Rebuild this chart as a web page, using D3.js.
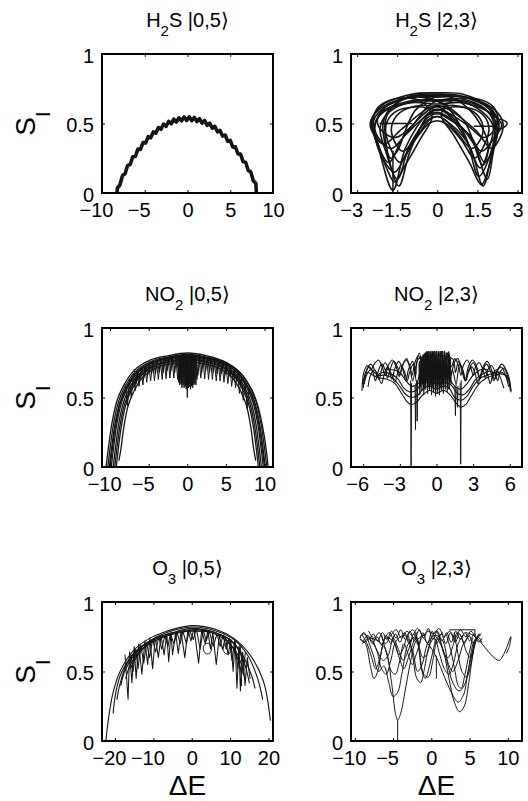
<!DOCTYPE html>
<html>
<head>
<meta charset="utf-8">
<script src="https://cdn.jsdelivr.net/npm/d3@7"></script>
<style>
  html, body { margin: 0; padding: 0; background: #fff; }
  svg { display: block; }
</style>
</head>
<body>
<svg id="fig" width="528" height="801"></svg>
<script>
// ---------- tick values and labels ----------
const yTicks = [0, 0.5, 1];
const yTickLabels = ["0", "0.5", "1"];
const xTicksH2S05 = [-10, -5, 0, 5, 10];
const xLabelsH2S05 = ["\u221210", "\u22125", "0", "5", "10"];
const xTicksH2S23 = [-3, -1.5, 0, 1.5, 3];
const xLabelsH2S23 = ["\u22123", "\u22121.5", "0", "1.5", "3"];
const xTicksNO205 = [-10, -5, 0, 5, 10];
const xLabelsNO205 = ["\u221210", "\u22125", "0", "5", "10"];
const xTicksNO223 = [-6, -3, 0, 3, 6];
const xLabelsNO223 = ["\u22126", "\u22123", "0", "3", "6"];
const xTicksO305 = [-20, -10, 0, 10, 20];
const xLabelsO305 = ["\u221220", "\u221210", "0", "10", "20"];
const xTicksO323 = [-10, -5, 0, 5, 10];
const xLabelsO323 = ["\u221210", "\u22125", "0", "5", "10"];

// ---------- H2S |0,5> : one densely oscillating trace ----------
const h2s05Trace = [[-8.25,0],[-8.2,0.035],[-7.9,0.059],[-7.6,0.126],[-7.3,0.138],[-7.0,0.199],[-6.7,0.205],
  [-6.4,0.261],[-6.1,0.263],[-5.8,0.316],[-5.5,0.314],[-5.2,0.363],[-4.9,0.359],[-4.6,0.405],[-4.3,0.397],
  [-4.0,0.440],[-3.7,0.430],[-3.4,0.471],[-3.1,0.458],[-2.8,0.496],[-2.5,0.480],[-2.2,0.516],[-1.9,0.498],
  [-1.6,0.531],[-1.3,0.511],[-1.0,0.541],[-0.7,0.519],[-0.4,0.547],[-0.1,0.522],[0.2,0.548],[0.5,0.520],
  [0.8,0.544],[1.1,0.514],[1.4,0.535],[1.7,0.503],[2.0,0.522],[2.3,0.487],[2.6,0.503],[2.9,0.466],[3.2,0.480],
  [3.5,0.440],[3.8,0.451],[4.1,0.409],[4.4,0.417],[4.7,0.372],[5.0,0.378],[5.3,0.330],[5.6,0.332],[5.9,0.281],
  [6.2,0.280],[6.5,0.226],[6.8,0.221],[7.1,0.162],[7.4,0.152],[7.7,0.087],[8.0,0.070],[8.05,0]];

// ---------- H2S |2,3> : closed orbits ----------
const h2s23Orbits = [
  [[0,0.70],[-0.96,0.69],[-2.09,0.60],[-2.41,0.50],[-2.14,0.28],[-1.66,0.02],[-1.18,0.33],[-0.37,0.57],[0,0.60],[0.37,0.57],[1.23,0.33],[1.71,0.05],[2.03,0.28],[2.3,0.50],[1.98,0.60],[0.96,0.69]],
  [[0,0.72],[-0.96,0.71],[-2.14,0.62],[-2.46,0.50],[-2.25,0.36],[-1.82,0.22],[-1.28,0.40],[-0.37,0.59],[0,0.62],[0.37,0.58],[1.34,0.36],[1.87,0.10],[2.09,0.30],[2.19,0.50],[1.87,0.62],[0.96,0.71]],
  [[0,0.66],[-0.86,0.66],[-1.82,0.58],[-2.14,0.47],[-1.93,0.30],[-1.5,0.10],[-1.02,0.35],[-0.32,0.53],[0,0.55],[0.32,0.52],[1.07,0.38],[1.6,0.18],[1.93,0.32],[2.09,0.48],[1.71,0.58],[0.86,0.66]],
  [[0,0.64],[-0.96,0.65],[-2.03,0.58],[-2.35,0.48],[-2.14,0.38],[-1.71,0.32],[-1.18,0.42],[-0.37,0.56],[0,0.58],[0.37,0.55],[1.18,0.42],[1.66,0.30],[2.14,0.40],[2.41,0.49],[2.03,0.57],[0.96,0.65]],
  [[0,0.60],[-0.75,0.62],[-1.6,0.58],[-1.93,0.48],[-1.77,0.33],[-1.39,0.22],[-0.91,0.36],[-0.32,0.50],[0,0.52],[0.32,0.50],[0.91,0.38],[1.39,0.25],[1.77,0.35],[1.93,0.48],[1.6,0.58],[0.75,0.62]],
  [[0,0.67],[-0.86,0.69],[-1.93,0.62],[-2.25,0.52],[-2.03,0.44],[-1.55,0.40],[-0.96,0.48],[-0.37,0.62],[0,0.66],[0.37,0.62],[1.07,0.40],[1.55,0.12],[1.93,0.25],[2.14,0.48],[1.82,0.60],[0.86,0.68]],
  [[0,0.67],[-1.07,0.66],[-2.09,0.58],[-2.35,0.46],[-2.09,0.27],[-1.6,0.15],[-1.12,0.30],[-0.37,0.54],[0,0.57],[0.37,0.54],[1.28,0.40],[1.77,0.22],[2.09,0.32],[2.25,0.46],[1.93,0.58],[1.07,0.66]],
  [[0,0.71],[-0.86,0.70],[-1.71,0.62],[-2.03,0.50],[-1.82,0.25],[-1.44,0.05],[-1.02,0.30],[-0.32,0.57],[0,0.60],[0.37,0.58],[1.18,0.48],[1.71,0.40],[2.09,0.44],[2.25,0.52],[1.93,0.62],[0.86,0.70]],
  [[0,0.62],[-0.64,0.63],[-1.39,0.58],[-1.71,0.48],[-1.6,0.37],[-1.28,0.30],[-0.8,0.40],[-0.27,0.53],[0,0.55],[0.27,0.53],[0.8,0.42],[1.28,0.32],[1.6,0.38],[1.71,0.48],[1.39,0.58],[0.64,0.63]],
  [[0,0.69],[-1.07,0.69],[-2.19,0.60],[-2.51,0.50],[-2.3,0.40],[-1.98,0.35],[-1.39,0.45],[-0.43,0.60],[0,0.63],[0.43,0.60],[1.44,0.45],[2.03,0.32],[2.35,0.40],[2.46,0.50],[2.14,0.60],[1.07,0.69]],
  [[-2.4,0.52],[-2.2,0.62],[-1.5,0.68],[-0.6,0.66],[-0.2,0.55],[-0.6,0.40],[-1.2,0.20],[-1.6,0.08],[-1.9,0.18],[-2.25,0.38]],
  [[2.3,0.50],[2.1,0.62],[1.4,0.68],[0.5,0.66],[0.15,0.56],[0.6,0.42],[1.2,0.22],[1.65,0.06],[1.95,0.20],[2.2,0.38]],
  [[-1.9,0.55],[-1.0,0.70],[0,0.66],[1.0,0.52],[1.7,0.20],[1.9,0.35],[1.2,0.60],[0.2,0.70],[-0.8,0.60],[-1.5,0.30],[-1.75,0.25]]
];
const h2s23SmallLoop = [[2.14,0.49],[2.35,0.53],[2.62,0.50],[2.35,0.46]];
const h2s23Segments = [
  [[-2.14,0.50],[-0.96,0.50]],
  [[1.39,0.48],[2.09,0.48]],
  [[-1.66,0.0],[-1.66,0.30]]
];

// ---------- NO2 |0,5> : nested arcs with a comb of dips ----------
const no205Arcs = [
  [[-10.53,0],[-10.19,0.15],[-9.75,0.32],[-9.09,0.48],[-8.31,0.58],[-6.98,0.69],[-4.76,0.77],[-2.55,0.80],[0,0.82],[2.55,0.80],[4.76,0.76],[6.98,0.67],[8.31,0.56],[9.09,0.45],[9.75,0.29],[10.19,0.14],[10.47,0]],
  [[-10.3,0],[-9.97,0.148],[-9.54,0.316],[-8.89,0.474],[-8.13,0.573],[-6.83,0.681],[-4.67,0.761],[-2.49,0.791],[0,0.81],[2.49,0.791],[4.67,0.761],[6.83,0.681],[8.13,0.573],[8.89,0.474],[9.54,0.316],[9.97,0.148],[10.3,0]],
  [[-10.1,0],[-9.78,0.146],[-9.35,0.312],[-8.72,0.468],[-7.97,0.566],[-6.7,0.673],[-4.58,0.751],[-2.44,0.781],[0,0.80],[2.44,0.781],[4.58,0.751],[6.7,0.673],[7.97,0.566],[8.72,0.468],[9.35,0.312],[9.78,0.146],[10.1,0]],
  [[-10.0,0],[-9.68,0.147],[-9.26,0.314],[-8.63,0.471],[-7.89,0.569],[-6.63,0.677],[-4.53,0.756],[-2.42,0.786],[0,0.805],[2.42,0.786],[4.53,0.756],[6.63,0.677],[7.89,0.569],[8.63,0.471],[9.26,0.314],[9.68,0.147],[10.0,0]],
  [[-9.85,0],[-9.53,0.146],[-9.12,0.312],[-8.5,0.468],[-7.77,0.566],[-6.53,0.673],[-4.46,0.751],[-2.38,0.781],[0,0.80],[2.38,0.781],[4.46,0.751],[6.53,0.673],[7.77,0.566],[8.5,0.468],[9.12,0.312],[9.53,0.146],[9.85,0]],
  [[-9.6,0],[-9.29,0.145],[-8.89,0.308],[-8.28,0.462],[-7.57,0.559],[-6.36,0.664],[-4.35,0.742],[-2.32,0.771],[0,0.79],[2.32,0.771],[4.35,0.742],[6.36,0.664],[7.57,0.559],[8.28,0.462],[8.89,0.308],[9.29,0.145],[9.6,0]],
  [[-9.4,0],[-9.1,0.143],[-8.7,0.304],[-8.11,0.456],[-7.42,0.551],[-6.23,0.656],[-4.26,0.732],[-2.27,0.761],[0,0.78],[2.27,0.761],[4.26,0.732],[6.23,0.656],[7.42,0.551],[8.11,0.456],[8.7,0.304],[9.1,0.143],[9.4,0]],
  [[-9.2,0],[-8.91,0.142],[-8.52,0.302],[-7.94,0.453],[-7.26,0.548],[-6.1,0.652],[-4.17,0.728],[-2.23,0.756],[0,0.775],[2.23,0.756],[4.17,0.728],[6.1,0.652],[7.26,0.548],[7.94,0.453],[8.52,0.302],[8.91,0.142],[9.2,0]],
  [[-8.85,0.05],[-8.57,0.14],[-8.2,0.296],[-7.64,0.445],[-6.98,0.537],[-5.87,0.639],[-4.01,0.714],[-2.14,0.742],[0,0.76],[2.14,0.742],[4.01,0.714],[5.87,0.639],[6.98,0.537],[7.64,0.445],[8.2,0.296],[8.57,0.14],[8.85,0.05]]
];
const no205Comb = [
  [[-8.0,0.59],[-7.75,0.44],[-7.5,0.63],[-7.25,0.50],[-7.0,0.67],[-6.75,0.55],[-6.5,0.69],[-6.25,0.58],[-6.0,0.71],[-5.75,0.59],[-5.5,0.725],[-5.25,0.61],[-5.0,0.74],[-4.75,0.62],[-4.5,0.75],[-4.25,0.62],[-4.0,0.765],[-3.75,0.63],[-3.5,0.77],[-3.25,0.63],[-3.0,0.78],[-2.75,0.635],[-2.5,0.79],[-2.25,0.64],[-2.0,0.795],[-1.75,0.64],[-1.5,0.80],[-1.25,0.63],[-1.0,0.805],[-0.75,0.60],[-0.5,0.81],[-0.25,0.60],[0,0.81],[0.25,0.60],[0.5,0.81],[0.75,0.61],[1.0,0.805],[1.25,0.63],[1.5,0.80],[1.75,0.64],[2.0,0.795],[2.25,0.635],[2.5,0.79],[2.75,0.63],[3.0,0.78],[3.25,0.63],[3.5,0.77],[3.75,0.62],[4.0,0.76],[4.25,0.62],[4.5,0.75],[4.75,0.61],[5.0,0.735],[5.25,0.60],[5.5,0.72],[5.75,0.58],[6.0,0.70],[6.25,0.57],[6.5,0.68],[6.75,0.53],[7.0,0.65],[7.25,0.48],[7.5,0.61],[7.75,0.42],[8.0,0.57]],
  [[-6.875,0.70],[-6.625,0.60],[-6.375,0.70],[-6.125,0.63],[-5.875,0.715],[-5.625,0.64],[-5.375,0.73],[-5.125,0.66],[-4.875,0.745],[-4.625,0.67],[-4.375,0.755],[-4.125,0.67],[-3.875,0.765],[-3.625,0.68],[-3.375,0.775],[-3.125,0.68],[-2.875,0.785],[-2.625,0.69],[-2.375,0.79],[-2.125,0.69],[-1.875,0.795],[-1.625,0.68],[-1.375,0.80],[-1.125,0.66],[-0.875,0.805],[-0.625,0.62],[-0.375,0.81],[-0.125,0.59],[0.125,0.81],[0.375,0.60],[0.625,0.81],[0.875,0.63],[1.125,0.805],[1.375,0.66],[1.625,0.80],[1.875,0.68],[2.125,0.795],[2.375,0.69],[2.625,0.79],[2.875,0.68],[3.125,0.78],[3.375,0.68],[3.625,0.77],[3.875,0.67],[4.125,0.76],[4.375,0.67],[4.625,0.75],[4.875,0.66],[5.125,0.735],[5.375,0.65],[5.625,0.72],[5.875,0.63],[6.125,0.70],[6.375,0.62],[6.625,0.685],[6.875,0.59]],
  [[-1.19,0.80],[-1.12,0.61],[-1.05,0.80],[-0.98,0.59],[-0.91,0.805],[-0.84,0.60],[-0.77,0.805],[-0.70,0.57],[-0.63,0.81],[-0.56,0.59],[-0.49,0.81],[-0.42,0.57],[-0.35,0.81],[-0.28,0.58],[-0.21,0.81],[-0.14,0.56],[-0.07,0.81],[0,0.58],[0.07,0.81],[0.14,0.57],[0.21,0.81],[0.28,0.58],[0.35,0.81],[0.42,0.56],[0.49,0.81],[0.56,0.58],[0.63,0.81],[0.70,0.57],[0.77,0.805],[0.84,0.59],[0.91,0.805],[0.98,0.60],[1.05,0.80],[1.12,0.59],[1.19,0.80]],
  [[-0.05,0.79],[0,0.50],[0.05,0.79]]
];

// ---------- NO2 |2,3> : wavy traces, dense core and narrow dips ----------
const no223Waves = [
  [[-6.0,0.57],[-5.8,0.68],[-5.5,0.72],[-5.2,0.68],[-5.0,0.62],[-4.8,0.68],[-4.5,0.74],[-4.2,0.70],[-4.0,0.64],[-3.8,0.70],[-3.5,0.76],[-3.2,0.72],[-3.0,0.66],[-2.8,0.72],[-2.5,0.77],[-2.2,0.73],[-2.0,0.66],[-1.8,0.74],[-1.5,0.80],[-1.2,0.76],[-0.9,0.82],[-0.6,0.75],[-0.3,0.82],[0,0.76],[0.3,0.82],[0.6,0.75],[0.9,0.82],[1.2,0.72],[1.5,0.78],[1.8,0.73],[2.0,0.66],[2.2,0.73],[2.5,0.77],[2.8,0.72],[3.0,0.66],[3.2,0.72],[3.5,0.75],[3.8,0.70],[4.0,0.64],[4.2,0.70],[4.5,0.73],[4.8,0.68],[5.0,0.62],[5.2,0.68],[5.5,0.71],[5.8,0.66],[6.05,0.55]],
  [[-5.6,0.58],[-5.4,0.66],[-5.1,0.70],[-4.8,0.66],[-4.5,0.60],[-4.3,0.66],[-4.0,0.72],[-3.7,0.67],[-3.4,0.61],[-3.2,0.67],[-2.9,0.73],[-2.6,0.68],[-2.4,0.62],[-2.2,0.68],[-1.9,0.74],[-1.6,0.60],[-1.3,0.70],[-1.0,0.56],[-0.7,0.74],[-0.4,0.58],[0,0.70],[0.4,0.58],[0.7,0.74],[1.0,0.56],[1.3,0.70],[1.6,0.60],[1.9,0.74],[2.2,0.68],[2.4,0.62],[2.6,0.68],[2.9,0.72],[3.2,0.66],[3.4,0.60],[3.6,0.66],[3.9,0.71],[4.2,0.66],[4.4,0.60],[4.6,0.66],[4.9,0.70],[5.2,0.65],[5.5,0.57]],
  [[-6.05,0.60],[-5.7,0.68],[-5.2,0.66],[-4.6,0.64],[-4.0,0.63],[-3.4,0.60],[-2.8,0.52],[-2.3,0.46],[-2.0,0.45],[-1.6,0.47],[-1.1,0.52],[-0.6,0.55],[0,0.53],[0.6,0.55],[1.1,0.52],[1.6,0.46],[2.0,0.43],[2.4,0.45],[2.9,0.52],[3.5,0.60],[4.1,0.64],[4.7,0.66],[5.3,0.67],[5.8,0.65],[6.1,0.55]],
  [[-5.9,0.62],[-5.4,0.70],[-4.8,0.66],[-4.2,0.66],[-3.6,0.64],[-3.0,0.58],[-2.5,0.52],[-2.0,0.50],[-1.5,0.52],[-1.0,0.57],[-0.5,0.58],[0,0.56],[0.5,0.58],[1.0,0.57],[1.5,0.50],[2.0,0.48],[2.5,0.51],[3.0,0.58],[3.6,0.64],[4.2,0.66],[4.8,0.68],[5.4,0.68],[5.9,0.62]],
  [[-5.0,0.65],[-4.4,0.68],[-3.8,0.67],[-3.2,0.64],[-2.7,0.57],[-2.2,0.54],[-1.7,0.55],[-1.2,0.60],[-0.6,0.61],[0,0.60],[0.6,0.61],[1.2,0.59],[1.7,0.53],[2.2,0.52],[2.7,0.56],[3.2,0.63],[3.8,0.67],[4.4,0.69],[5.0,0.66]],
  [[-4.2,0.70],[-3.6,0.70],[-3.0,0.68],[-2.5,0.62],[-2.0,0.58],[-1.5,0.60],[-1.0,0.64],[-0.5,0.66],[0,0.64],[0.5,0.66],[1.0,0.64],[1.5,0.58],[2.0,0.56],[2.5,0.60],[3.0,0.66],[3.6,0.70],[4.2,0.70]],
  [[-6.1,0.55],[-5.95,0.68],[-5.65,0.73],[-5.35,0.70],[-5.1,0.74],[-4.75,0.77],[-4.45,0.72],[-4.2,0.66],[-3.95,0.73],[-3.6,0.77],[-3.3,0.72],[-3.05,0.65],[-2.8,0.73],[-2.45,0.78],[-2.15,0.70],[-1.95,0.62],[-1.7,0.72],[-1.4,0.82],[-1.1,0.70],[-0.8,0.83],[-0.5,0.68],[-0.2,0.83],[0.1,0.66],[0.4,0.83],[0.7,0.70],[1.0,0.83],[1.2,0.66],[1.45,0.75],[1.75,0.78],[2.05,0.70],[2.35,0.62],[2.6,0.72],[2.95,0.77],[3.3,0.72],[3.55,0.64],[3.8,0.72],[4.15,0.76],[4.5,0.70],[4.75,0.63],[5.0,0.70],[5.35,0.74],[5.7,0.70],[5.95,0.64],[6.1,0.54]],
  [[-5.9,0.60],[-5.7,0.70],[-5.4,0.74],[-5.0,0.69],[-4.7,0.63],[-4.5,0.70],[-4.2,0.75],[-3.9,0.70],[-3.65,0.63],[-3.4,0.71],[-3.1,0.76],[-2.75,0.70],[-2.5,0.62],[-2.3,0.70],[-1.95,0.76],[-1.7,0.66],[-1.45,0.78],[1.3,0.78],[1.55,0.68],[1.8,0.76],[2.15,0.70],[2.4,0.62],[2.65,0.70],[3.0,0.75],[3.3,0.70],[3.55,0.63],[3.8,0.70],[4.1,0.74],[4.45,0.68],[4.7,0.62],[4.95,0.69],[5.3,0.72],[5.65,0.66],[5.9,0.58]]
];
const no223Core = [
  [[-1.44,0.74],[-1.36,0.52],[-1.28,0.78],[-1.20,0.55],[-1.12,0.80],[-1.04,0.52],[-0.96,0.81],[-0.88,0.56],[-0.80,0.82],[-0.72,0.53],[-0.64,0.83],[-0.56,0.55],[-0.48,0.83],[-0.40,0.52],[-0.32,0.83],[-0.24,0.54],[-0.16,0.83],[-0.08,0.51],[0,0.83],[0.08,0.53],[0.16,0.83],[0.24,0.52],[0.32,0.83],[0.40,0.55],[0.48,0.83],[0.56,0.53],[0.64,0.83],[0.72,0.56],[0.80,0.82],[0.88,0.54],[0.96,0.81],[1.04,0.57],[1.12,0.79],[1.20,0.60]],
  [[-1.40,0.76],[-1.32,0.58],[-1.24,0.79],[-1.16,0.60],[-1.08,0.81],[-1.00,0.58],[-0.92,0.82],[-0.84,0.62],[-0.76,0.83],[-0.68,0.58],[-0.60,0.83],[-0.52,0.60],[-0.44,0.83],[-0.36,0.57],[-0.28,0.83],[-0.20,0.60],[-0.12,0.83],[-0.04,0.56],[0.04,0.83],[0.12,0.58],[0.20,0.83],[0.28,0.57],[0.36,0.83],[0.44,0.60],[0.52,0.83],[0.60,0.58],[0.68,0.83],[0.76,0.60],[0.84,0.82],[0.92,0.58],[1.00,0.81],[1.08,0.62],[1.16,0.78]]
];
const no223Dips = [
  [[-2.12,0.62],[-2.08,0],[-2.04,0.60]],
  [[1.94,0.60],[1.98,0.02],[2.02,0.62]],
  [[-1.76,0.58],[-1.72,0.27],[-1.68,0.60]],
  [[-1.62,0.62],[-1.58,0.33],[-1.54,0.62]],
  [[1.50,0.58],[1.55,0.37],[1.60,0.60]],
  [[1.68,0.56],[1.72,0.43],[1.76,0.58]]
];

// ---------- O3 |0,5> : arcs ending at various heights, comb of dips ----------
const o305Arcs = [
  [[-22.4,0],[-21.5,0.2],[-20.5,0.35],[-18.7,0.50],[-15.2,0.65],[-10.9,0.74],[-6.5,0.79],[0,0.83],[6.5,0.80],[10.9,0.74],[15.2,0.62],[18.7,0.43],[20.5,0.15]],
  [[-20.5,0.20],[-19.8,0.35],[-18.5,0.48],[-15.5,0.62],[-11,0.72],[-6.5,0.78],[0,0.82],[6.5,0.79],[11,0.73],[14.5,0.62],[17.2,0.45],[18.5,0.30]],
  [[-19.5,0.30],[-18.8,0.40],[-17,0.55],[-14,0.66],[-10,0.73],[-5,0.78],[0,0.81],[5,0.79],[10,0.73],[13,0.63],[15.5,0.48],[16.5,0.38]],
  [[-18.5,0.40],[-17.5,0.50],[-15.5,0.60],[-12,0.70],[-7,0.76],[0,0.80],[7,0.77],[11,0.70],[13.5,0.58],[15,0.42]],
  [[-17.2,0.45],[-16,0.55],[-13.5,0.65],[-9,0.74],[-4,0.78],[0,0.79],[5,0.78],[9,0.72],[12,0.62],[13.8,0.45]],
  [[-16,0.52],[-14.5,0.60],[-12,0.68],[-8,0.74],[-3,0.78],[2,0.80],[7,0.77],[10,0.70],[12.5,0.55],[13,0.40]]
];
const o305Comb = [
  [[-17.4,0.62],[-16.6,0.30],[-16.2,0.64],[-15.6,0.42],[-15.0,0.68],[-14.5,0.45],[-13.8,0.70],[-13.0,0.48],[-12.2,0.72],[-11.5,0.55],[-10.9,0.74],[-10.2,0.52],[-9.5,0.75],[-8.7,0.60],[-8.0,0.76],[-7.2,0.62],[-6.5,0.77],[-6.0,0.57],[-5.4,0.78],[-5.0,0.62],[-4.2,0.78],[-3.5,0.63],[-2.8,0.79],[-1.8,0.60],[-1.0,0.80],[-0.2,0.72],[0.6,0.81],[1.8,0.56],[2.6,0.80],[3.5,0.70],[4.2,0.79],[4.9,0.66],[5.5,0.78],[6.4,0.55],[7.2,0.76],[8.0,0.66],[8.8,0.75],[9.5,0.62],[10.2,0.73],[10.8,0.50],[11.3,0.72],[11.8,0.38],[12.3,0.68],[12.7,0.36],[13.3,0.64],[13.9,0.40],[14.5,0.60],[15.2,0.45]],
  [[-15.8,0.62],[-15.3,0.50],[-14.6,0.66],[-14.0,0.52],[-13.3,0.69],[-12.5,0.56],[-11.8,0.71],[-11.0,0.60],[-10.2,0.73],[-9.4,0.64],[-8.6,0.75],[-7.8,0.66],[-7.0,0.76],[-6.2,0.68],[-5.6,0.77],[-4.6,0.70],[-3.8,0.78],[-3.0,0.70],[-2.3,0.79],[-1.4,0.70],[-0.6,0.80],[0.4,0.73],[1.2,0.81],[2.2,0.66],[3.0,0.80],[3.8,0.72],[4.6,0.79],[5.6,0.68],[6.6,0.77],[7.4,0.68],[8.2,0.76],[9.0,0.66],[9.8,0.74],[10.5,0.58],[11.2,0.72],[12.0,0.52],[12.6,0.69],[13.4,0.48],[14.0,0.64]]
];
const o305Loops = [
  [[3.0,0.67],[3.6,0.70],[4.6,0.70],[5.2,0.66],[4.6,0.63],[3.6,0.63]],
  [[8.2,0.66],[8.8,0.70],[9.8,0.70],[10.3,0.66],[9.8,0.63],[8.8,0.63]]
];

// ---------- O3 |2,3> : irregular traces ----------
const o323Traces = [
  [[-8.0,0.74],[-7.0,0.72],[-6.0,0.66],[-5.2,0.42],[-4.7,0.20],[-4.4,0.15],[-4.0,0.20],[-3.3,0.40],[-2.6,0.60],[-2.0,0.72],[-1.0,0.76]],
  [[0.5,0.76],[1.5,0.66],[2.3,0.45],[3.0,0.28],[3.7,0.21],[4.3,0.25],[4.9,0.42],[5.5,0.65],[6.0,0.75]],
  [[-1.0,0.74],[0.5,0.62],[1.8,0.45],[2.8,0.33],[3.5,0.28],[4.2,0.33],[4.8,0.50],[5.6,0.72],[6.3,0.76]],
  [[1.0,0.74],[2.0,0.58],[2.8,0.42],[3.6,0.36],[4.3,0.40],[5.0,0.55],[5.8,0.74]],
  [[-9.2,0.73],[-8.6,0.70],[-8.0,0.55],[-7.5,0.45],[-7.0,0.50],[-6.5,0.65],[-6.0,0.74],[-5.0,0.72],[-4.2,0.60],[-3.6,0.52],[-3.0,0.60],[-2.2,0.74]],
  [[-8.5,0.76],[-7.6,0.62],[-6.9,0.50],[-6.2,0.54],[-5.6,0.43],[-5.0,0.32],[-4.4,0.35],[-3.8,0.50],[-3.0,0.70],[-2.0,0.75],[-1.3,0.52],[-0.8,0.45],[-0.2,0.55],[0.5,0.72]],
  [[-9.0,0.70],[-8.2,0.74],[-7.2,0.66],[-6.5,0.52],[-5.9,0.48],[-5.3,0.58],[-4.6,0.72],[-3.5,0.76],[-2.5,0.66],[-1.8,0.50],[-1.2,0.55],[-0.5,0.70],[0.5,0.76],[1.5,0.72],[2.2,0.56],[2.8,0.50],[3.5,0.58],[4.2,0.70],[5.0,0.76]],
  [[4.5,0.78],[5.5,0.76],[6.3,0.72],[7.2,0.66],[8.2,0.60],[8.9,0.58],[9.6,0.64],[10.4,0.75],[10.2,0.68],[9.8,0.63]],
  [[-9.3,0.75],[-8.8,0.78],[-8.2,0.73],[-7.6,0.77],[-7.0,0.72],[-6.4,0.78],[-5.8,0.73],[-5.2,0.79],[-4.6,0.74],[-4.0,0.80],[-3.4,0.73],[-2.8,0.79],[-2.2,0.72],[-1.6,0.80],[-1.0,0.74],[-0.4,0.81],[0.2,0.73],[0.8,0.79],[1.4,0.72],[2.0,0.78],[2.6,0.71],[3.2,0.79],[3.8,0.73],[4.4,0.78],[5.0,0.72],[5.6,0.77],[6.2,0.71],[6.6,0.74]],
  [[-8.9,0.72],[-8.3,0.76],[-7.7,0.70],[-7.1,0.75],[-6.5,0.69],[-5.9,0.76],[-5.3,0.70],[-4.7,0.77],[-4.1,0.71],[-3.5,0.78],[-2.9,0.70],[-2.3,0.77],[-1.7,0.69],[-1.1,0.78],[-0.5,0.70],[0.1,0.79],[0.7,0.70],[1.3,0.77],[1.9,0.70],[2.5,0.78],[3.1,0.71],[3.7,0.77],[4.3,0.70],[4.9,0.76],[5.5,0.70],[6.1,0.75],[6.6,0.71]],
  [[-3.0,0.76],[-2.4,0.60],[-1.9,0.45],[-1.4,0.42],[-0.9,0.52],[-0.3,0.68],[0.4,0.74],[1.1,0.62],[1.7,0.52],[2.3,0.48],[2.9,0.56],[3.5,0.70],[4.1,0.76]],
  [[-6.5,0.76],[-5.8,0.62],[-5.2,0.50],[-4.7,0.48],[-4.2,0.56],[-3.6,0.70],[-3.0,0.62],[-2.5,0.55],[-2.0,0.62],[-1.3,0.74]],
  [[2.0,0.76],[2.6,0.64],[3.1,0.50],[3.5,0.40],[3.9,0.38],[4.4,0.48],[4.9,0.62],[5.4,0.74]],
  [[-7.8,0.75],[-7.0,0.64],[-6.3,0.58],[-5.6,0.62],[-5.0,0.74],[-4.3,0.66],[-3.7,0.58],[-3.1,0.64],[-2.5,0.74]],
  [[-9.0,0.76],[-8.4,0.70],[-7.8,0.60],[-7.3,0.52],[-6.8,0.58],[-6.2,0.72],[-5.5,0.78],[-4.8,0.70],[-4.2,0.62],[-3.7,0.66],[-3.1,0.76],[-2.4,0.80],[-1.7,0.70],[-1.1,0.60],[-0.6,0.62],[0,0.74],[0.6,0.79],[1.2,0.72],[1.7,0.62],[2.2,0.60],[2.8,0.68],[3.4,0.78],[4.0,0.74],[4.6,0.64],[5.1,0.60],[5.6,0.70],[6.2,0.77]],
  [[-8.2,0.79],[-7.5,0.74],[-6.8,0.78],[-6.0,0.70],[-5.3,0.76],[-4.6,0.80],[-3.9,0.74],[-3.2,0.79],[-2.5,0.76],[-1.8,0.81],[-1.1,0.76],[-0.4,0.79],[0.3,0.77],[1.0,0.81],[1.7,0.75],[2.4,0.79],[3.1,0.74],[3.8,0.80],[4.5,0.75],[5.2,0.79],[5.9,0.74],[6.5,0.77]],
  [[-2.0,0.78],[-1.5,0.62],[-1.0,0.48],[-0.4,0.46],[0.2,0.58],[0.8,0.74],[1.5,0.78]],
  [[3.0,0.78],[3.5,0.62],[4.0,0.50],[4.6,0.46],[5.2,0.56],[5.8,0.72],[6.3,0.77]]
];
const o323Loop = [[-9.3,0.74],[-9.0,0.77],[-8.5,0.76],[-8.3,0.73],[-8.7,0.71],[-9.1,0.72]];
const o323Segments = [
  [[-4.4,0.15],[-4.4,0.0]],
  [[0.66,0.61],[0.66,0.45]],
  [[2.4,0.80],[5.7,0.80],[5.7,0.76]]
];

// ---------- layout ----------
const FONT = "'Liberation Sans', Arial, Helvetica, sans-serif";
const COL_X = [102, 351];
const ROW_Y = [54, 328, 602];
const BOX_W = 171, BOX_H = 139;

const lin = d3.curveLinear;
const smooth = d3.curveCatmullRom.alpha(0.5);
const closed = d3.curveCatmullRomClosed.alpha(0.5);

const panels = [
  { col: 0, row: 0, head: "H", sub: "2", tail: "S |0,5\u27E9", xDomain: [-10, 10], xTicks: xTicksH2S05, xLabels: xLabelsH2S05,
    layers: [ { data: [h2s05Trace], curve: lin, w: 3.6 } ] },
  { col: 1, row: 0, head: "H", sub: "2", tail: "S |2,3\u27E9", xDomain: [-3.23, 3.17], xTicks: xTicksH2S23, xLabels: xLabelsH2S23,
    layers: [ { data: h2s23Orbits, curve: closed, w: 1.6 },
              { data: [h2s23SmallLoop], curve: closed, w: 1.5 },
              { data: h2s23Segments, curve: lin, w: 1.5 } ] },
  { col: 0, row: 1, head: "NO", sub: "2", tail: " |0,5\u27E9", xDomain: [-11.05, 11.1], xTicks: xTicksNO205, xLabels: xLabelsNO205,
    layers: [ { data: no205Arcs, curve: smooth, w: 1.3 },
              { data: no205Comb, curve: lin, w: 1.0 } ] },
  { col: 1, row: 1, head: "NO", sub: "2", tail: " |2,3\u27E9", xDomain: [-7, 7], xTicks: xTicksNO223, xLabels: xLabelsNO223,
    layers: [ { data: no223Waves, curve: smooth, w: 1.1 },
              { data: no223Core, curve: lin, w: 1.1 },
              { data: no223Dips, curve: lin, w: 1.0 } ] },
  { col: 0, row: 2, head: "O", sub: "3", tail: " |0,5\u27E9", xDomain: [-23.4, 21.2], xTicks: xTicksO305, xLabels: xLabelsO305,
    layers: [ { data: o305Arcs, curve: smooth, w: 1.1 },
              { data: o305Comb, curve: lin, w: 1.05 },
              { data: o305Loops, curve: closed, w: 1.0 } ] },
  { col: 1, row: 2, head: "O", sub: "3", tail: " |2,3\u27E9", xDomain: [-10.5, 11.85], xTicks: xTicksO323, xLabels: xLabelsO323,
    layers: [ { data: o323Traces, curve: smooth, w: 1.0 },
              { data: [o323Loop], curve: closed, w: 1.0 },
              { data: o323Segments, curve: lin, w: 1.0 } ] }
];

const svg = d3.select("#fig");
const defs = svg.append("defs");

panels.forEach((p, i) => {
  const x0 = COL_X[p.col], y0 = ROW_Y[p.row];
  const x = d3.scaleLinear().domain(p.xDomain).range([x0, x0 + BOX_W]);
  const y = d3.scaleLinear().domain([0, 1]).range([y0 + BOX_H, y0]);

  defs.append("clipPath").attr("id", "clip" + i)
    .append("rect").attr("x", x0).attr("y", y0).attr("width", BOX_W).attr("height", BOX_H);

  const g = svg.append("g");
  const plot = g.append("g").attr("clip-path", `url(#clip${i})`);

  p.layers.forEach(L => {
    const line = d3.line().x(d => x(d[0])).y(d => y(d[1])).curve(L.curve);
    plot.selectAll(null).data(L.data).join("path")
      .attr("d", line)
      .attr("fill", "none")
      .attr("stroke", "#141414")
      .attr("stroke-width", L.w)
      .attr("stroke-linejoin", "round")
      .attr("stroke-linecap", "round");
  });

  // axes: inward ticks on all four sides, labels on bottom and left
  const styleAxis = sel => {
    sel.select(".domain").remove();
    sel.selectAll(".tick line").attr("stroke", "#000").attr("stroke-width", 1);
    sel.selectAll(".tick text").attr("fill", "#000").style("font-family", FONT).style("font-size", "20px");
  };

  g.append("g").attr("transform", `translate(0,${y0 + BOX_H})`)
    .call(d3.axisBottom(x).tickValues(p.xTicks).tickSize(-3).tickPadding(10)
      .tickFormat((d, k) => p.xLabels[k]))
    .call(styleAxis)
    .selectAll(".tick text")
    .attr("dx", (d, k) => p.xLabels[k].startsWith("\u2212") ? "-0.3em" : 0);
  g.append("g").attr("transform", `translate(0,${y0})`)
    .call(d3.axisTop(x).tickValues(p.xTicks).tickSize(-3).tickFormat(""))
    .call(styleAxis);
  g.append("g").attr("transform", `translate(${x0},0)`)
    .call(d3.axisLeft(y).tickValues(yTicks).tickSize(-3).tickPadding(8)
      .tickFormat((d, k) => yTickLabels[k]))
    .call(styleAxis)
    .selectAll(".tick text").attr("dy", "0.40em");
  g.append("g").attr("transform", `translate(${x0 + BOX_W},0)`)
    .call(d3.axisRight(y).tickValues(yTicks).tickSize(-3).tickFormat(""))
    .call(styleAxis);

  g.append("rect")
    .attr("x", x0).attr("y", y0).attr("width", BOX_W).attr("height", BOX_H)
    .attr("fill", "none").attr("stroke", "#000").attr("stroke-width", 2);

  // title with chemical subscript
  const t = g.append("text")
    .attr("x", x0 + BOX_W / 2).attr("y", y0 - 27)
    .attr("text-anchor", "middle")
    .style("font-family", FONT).style("font-size", "20px").attr("fill", "#000");
  t.append("tspan").text(p.head);
  t.append("tspan").attr("dy", 9).style("font-size", "15px").text(p.sub);
  t.append("tspan").attr("dy", -9).text(p.tail);

  // y-axis label on the left column
  if (p.col === 0) {
    const yl = g.append("text")
      .attr("transform", `translate(35,${y0 + BOX_H / 2}) rotate(-90)`)
      .attr("text-anchor", "middle")
      .style("font-family", FONT).style("font-size", "28px").attr("fill", "#000");
    yl.append("tspan").text("S");
    yl.append("tspan").attr("dy", 15).style("font-size", "20px").text("I");
  }
  // x-axis label on the bottom row
  if (p.row === 2) {
    g.append("text")
      .attr("x", x0 + BOX_W / 2).attr("y", 795)
      .attr("text-anchor", "middle")
      .style("font-family", FONT).style("font-size", "28px").attr("fill", "#000")
      .text("\u0394E");
  }
});
</script>
</body>
</html>
